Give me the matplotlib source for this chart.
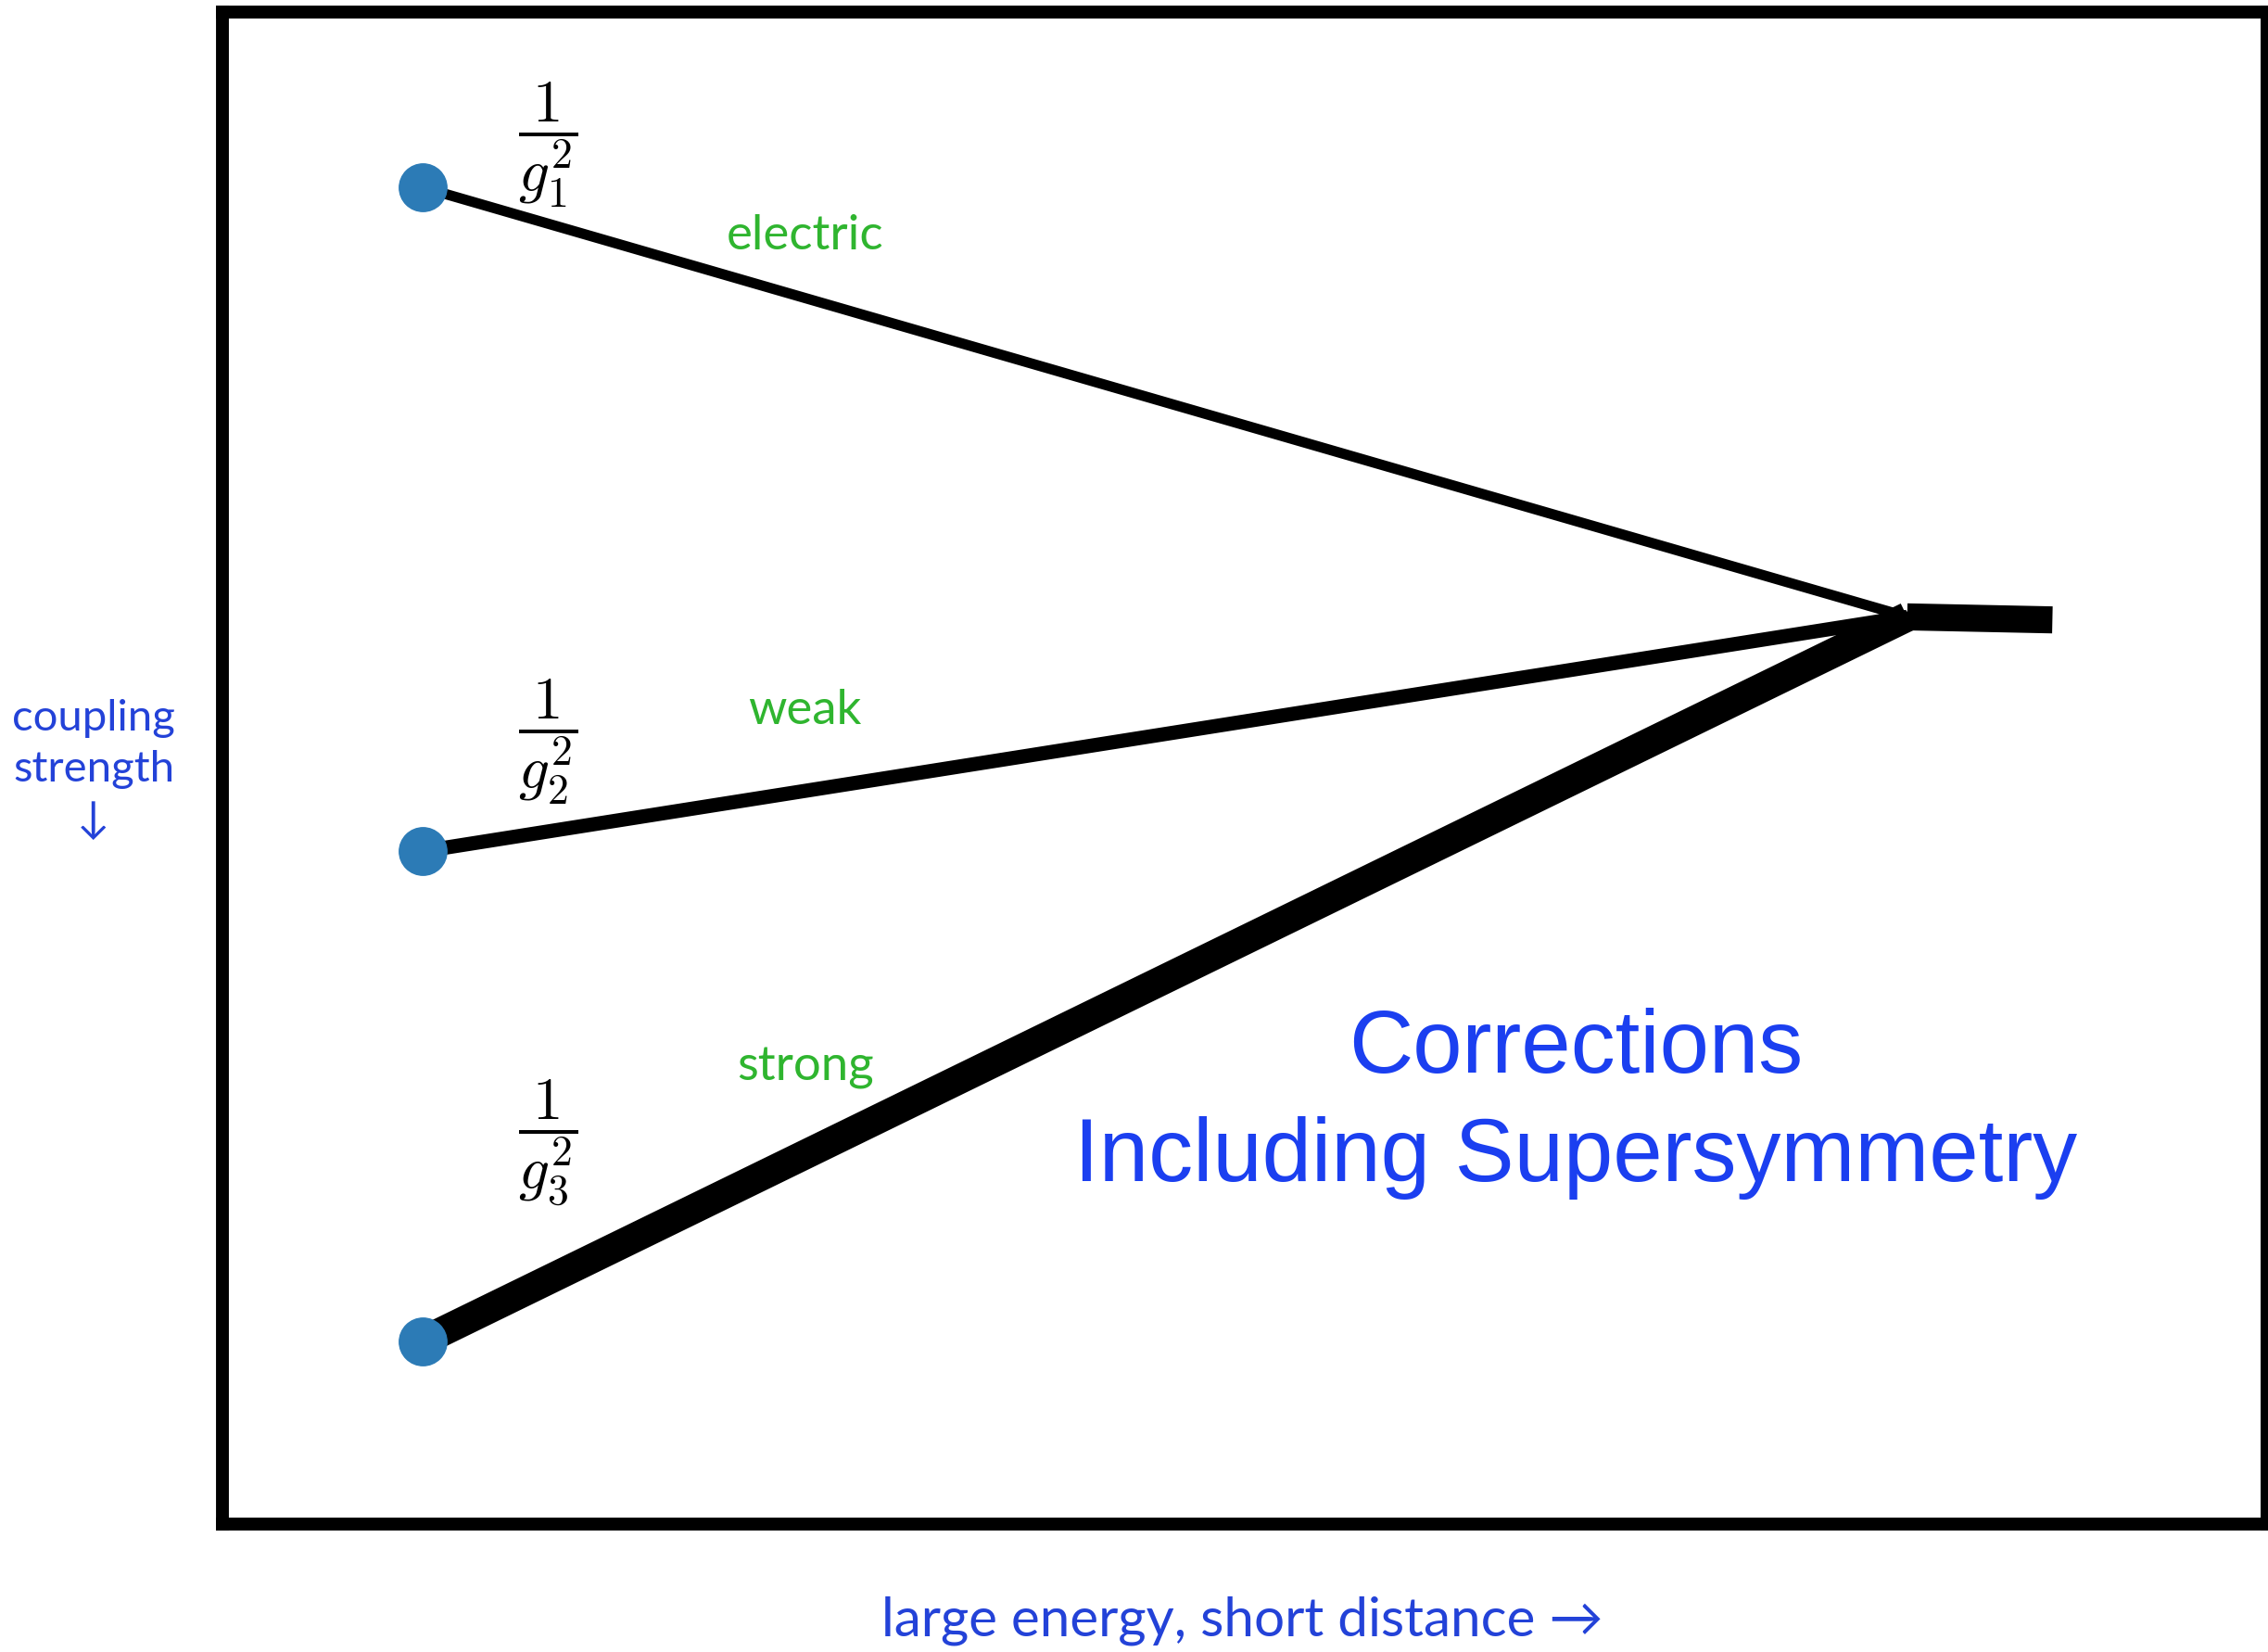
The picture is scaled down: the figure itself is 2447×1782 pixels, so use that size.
import matplotlib
matplotlib.use("Agg")
import matplotlib.pyplot as plt

plt.rcParams["mathtext.fontset"] = "cm"

# Data: three couplings running from low energy to the unification point
forces = ["electric", "weak", "strong"]
frac_labels = [r"$\dfrac{1}{g_1^2}$", r"$\dfrac{1}{g_2^2}$", r"$\dfrac{1}{g_3^2}$"]
x_low = 9.8
x_unify = 82.4
x_end = 89.5
inv_g2_low = [88.4, 44.5, 12.1]
inv_g2_unify = 60.0
inv_g2_end = 59.8

line_widths = [8, 11, 23]
label_y = [85.2, 53.8, 30.2]
frac_y = [91.2, 51.7, 25.2]

green = "#2fb52f"
blue = "#2342d8"
dot_blue = "#2c7bb6"
sans = ["Lato", "DejaVu Sans"]

fig = plt.figure(figsize=(24.47, 17.82), dpi=100)
ax = fig.add_axes([240 / 2447, 1 - 1644 / 1782, (2446 - 240) / 2447, (1644 - 13) / 1782])
ax.set_xlim(0, 100)
ax.set_ylim(0, 100)
ax.set_xticks([])
ax.set_yticks([])
for sp in ax.spines.values():
    sp.set_linewidth(10)
    sp.set_color("black")

# running couplings
for i in range(len(forces)):
    ax.plot([x_low, x_unify], [inv_g2_low[i], inv_g2_unify], color="black",
            lw=line_widths[i], solid_capstyle="butt", zorder=2)
    ax.text(28.5, label_y[i], forces[i], color=green, fontsize=38,
            family=sans, ha="center", va="center")
    ax.text(15.9, frac_y[i], frac_labels[i], fontsize=47, ha="center", va="center")

# unified coupling beyond the meeting point
ax.plot([x_unify, x_end], [inv_g2_unify, inv_g2_end], color="black", lw=21,
        solid_capstyle="butt", zorder=2)

# starting values
ax.plot([x_low] * 3, inv_g2_low, "o", color=dot_blue, markersize=37, zorder=3)

ax.text(66.2, 27.8, "Corrections\nIncluding Supersymmetry", color="#1b3ff0",
        fontsize=69, family="Liberation Sans", ha="center", va="center",
        multialignment="center", linespacing=1.38)

fig.text(101 / 2447, 1 - 830 / 1782, "coupling\nstrength\n\u2193", color=blue,
         fontsize=34, family=sans, ha="center", va="center", linespacing=1.38)
fig.text(1340 / 2447, 1 - 1748 / 1782, "large energy, short distance \u2192",
         color=blue, fontsize=42, family=sans, ha="center", va="center")

fig.savefig("out.png", dpi=100)
